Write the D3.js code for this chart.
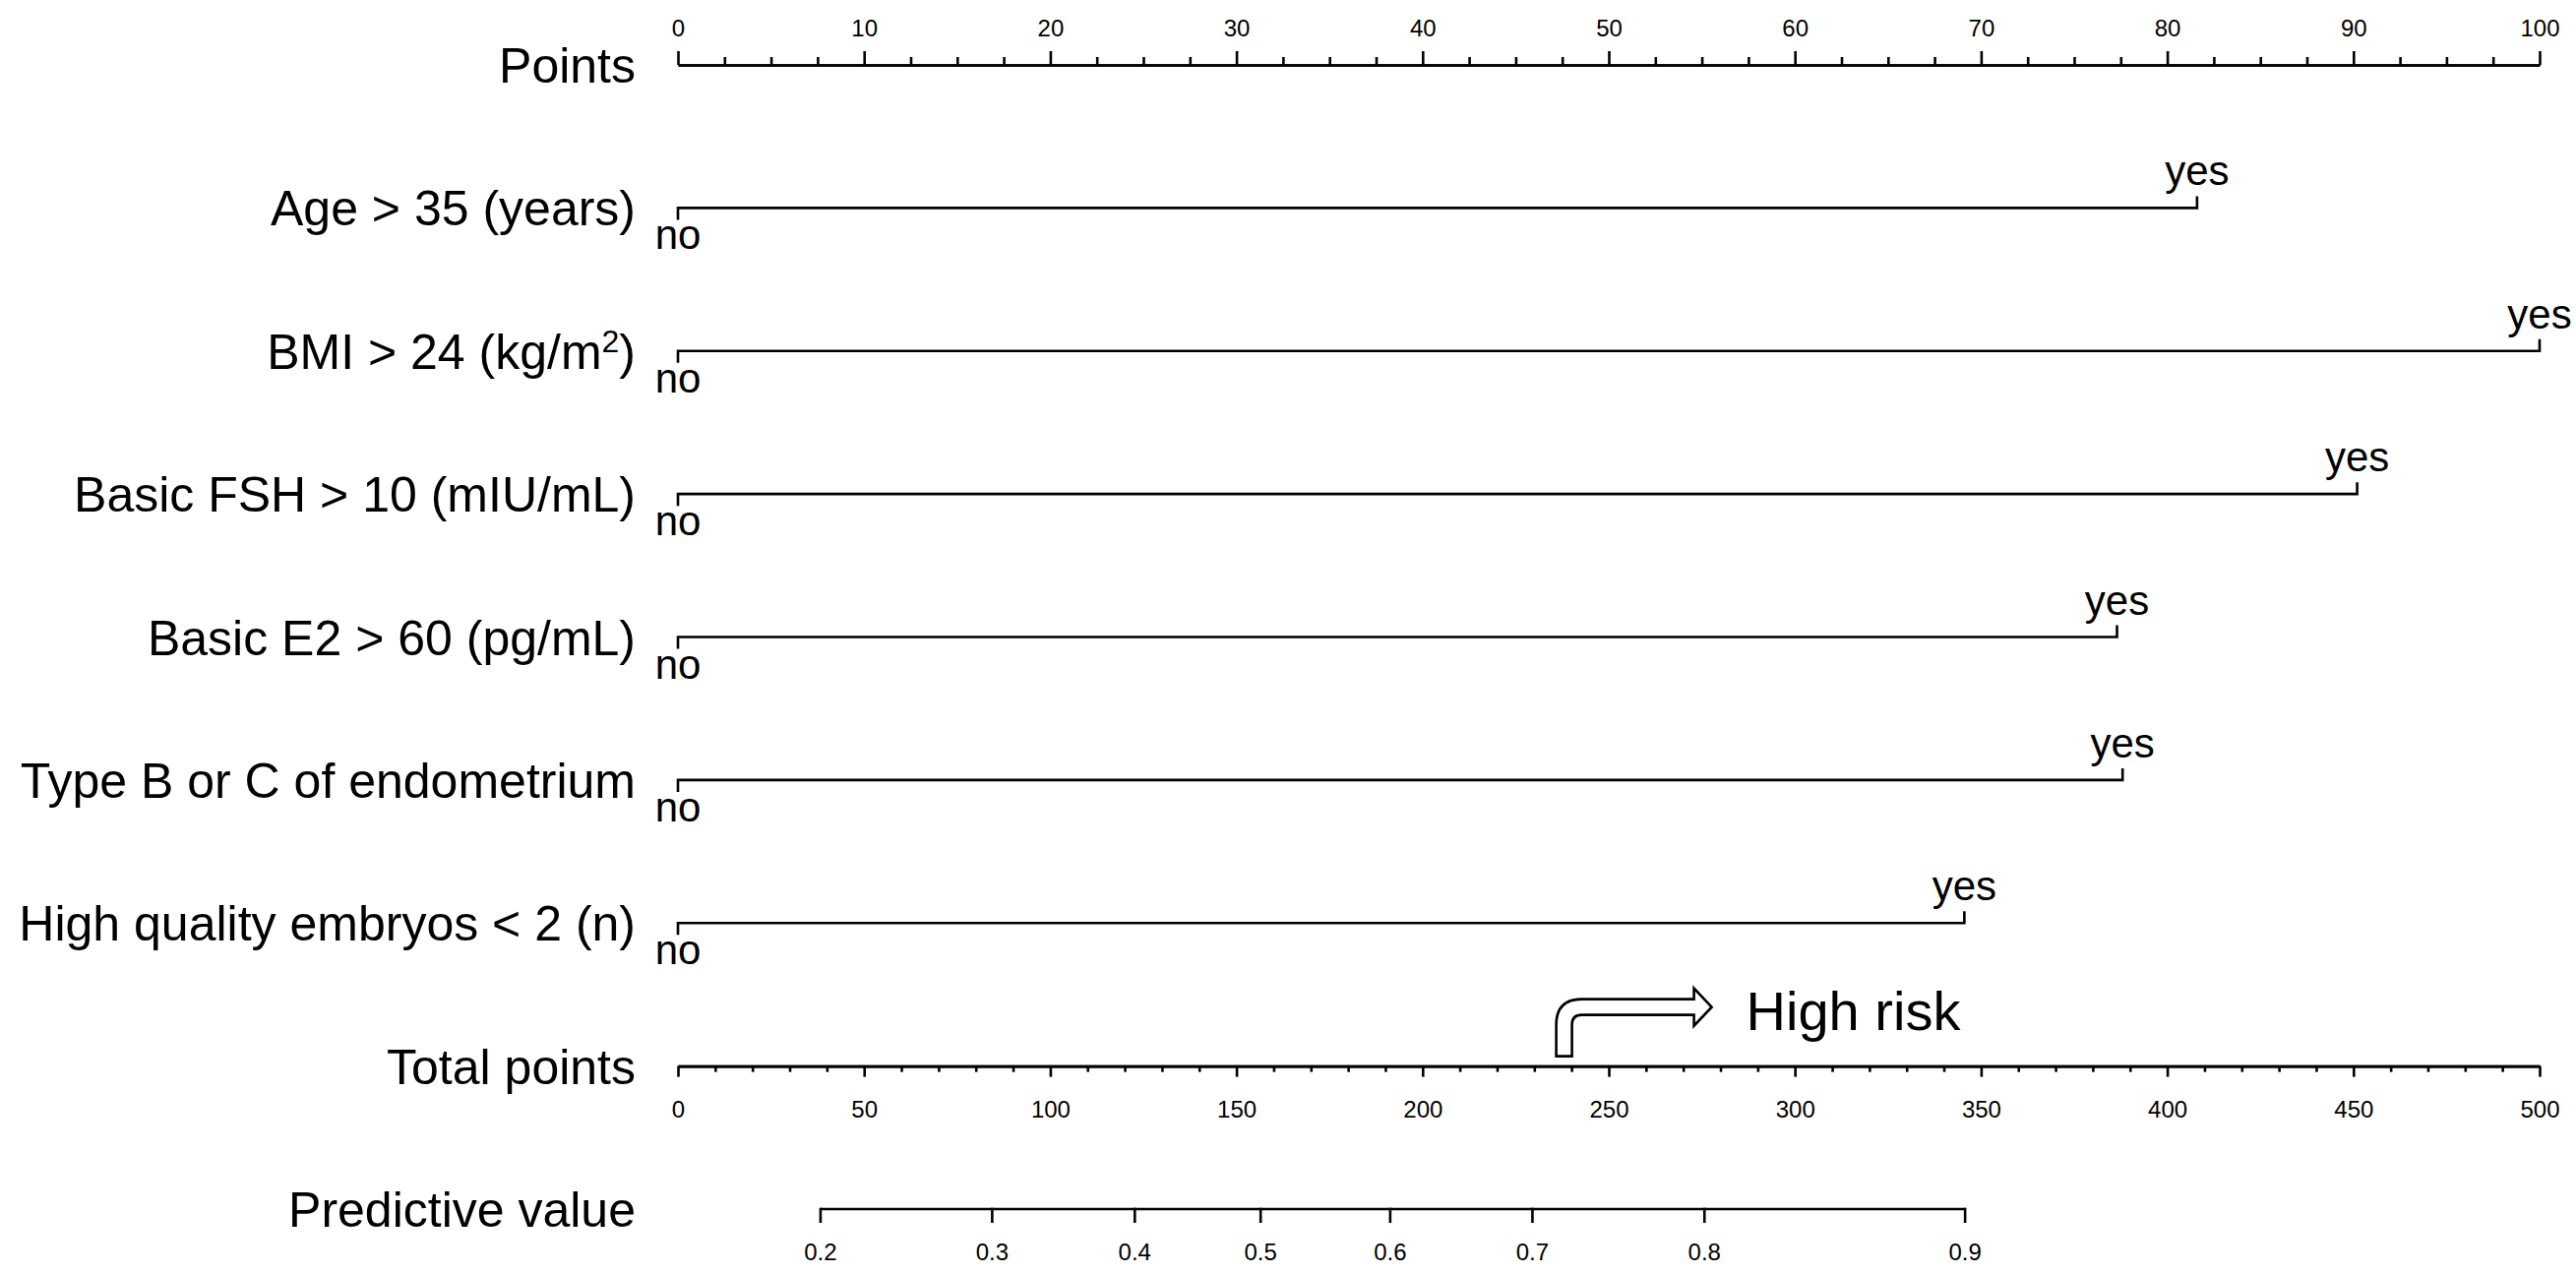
<!DOCTYPE html>
<html>
<head>
<meta charset="utf-8">
<script src="https://cdn.jsdelivr.net/npm/d3@7"></script>
<style>
  html, body { margin: 0; padding: 0; background: #fff; }
  svg { display: block; }
</style>
</head>
<body>
<svg id="chart" width="2618" height="1295"></svg>
<script>
// ---------------- data ----------------
const rowKeys = ["points", "age", "bmi", "fsh", "e2", "endo", "hq", "total", "pred"];
const rowLabels = ["Points", "Age > 35 (years)", "BMI > 24 (kg/m2)", "Basic FSH > 10 (mIU/mL)",
  "Basic E2 > 60 (pg/mL)", "Type B or C of endometrium", "High quality embryos < 2 (n)",
  "Total points", "Predictive value"];
const variables = ["age", "bmi", "fsh", "e2", "endo", "hq"];
const levelNo = ["no", "no", "no", "no", "no", "no"];
const levelYes = ["yes", "yes", "yes", "yes", "yes", "yes"];
const noPoints = [0, 0, 0, 0, 0, 0];
const yesPoints = [81.6, 100, 90.2, 77.3, 77.6, 69.1];
const pointsMajorTicks = [0, 10, 20, 30, 40, 50, 60, 70, 80, 90, 100];
const pointsMinorTicks = [2.5, 5, 7.5, 12.5, 15, 17.5, 22.5, 25, 27.5, 32.5, 35, 37.5, 42.5, 45, 47.5,
  52.5, 55, 57.5, 62.5, 65, 67.5, 72.5, 75, 77.5, 82.5, 85, 87.5, 92.5, 95, 97.5];
const totalMajorTicks = [0, 50, 100, 150, 200, 250, 300, 350, 400, 450, 500];
const totalMinorTicks = [10, 20, 30, 40, 60, 70, 80, 90, 110, 120, 130, 140, 160, 170, 180, 190,
  210, 220, 230, 240, 260, 270, 280, 290, 310, 320, 330, 340, 360, 370, 380, 390,
  410, 420, 430, 440, 460, 470, 480, 490];
const predLabels = ["0.2", "0.3", "0.4", "0.5", "0.6", "0.7", "0.8", "0.9"];
const predAtTotal = [38.3, 84.4, 122.7, 156.5, 191.3, 229.5, 275.7, 345.7];
const arrowAtTotal = 238;
const arrowText = "High risk";

// ---------------- layout ----------------
(function () {
const svg = d3.select("#chart");
const MAIN_FONT = "'Liberation Sans', Arial, Helvetica, sans-serif";
const TICK_FONT = "'Liberation Sans Narrow', 'Arial Narrow', 'Liberation Sans', sans-serif";

const xPts = d3.scaleLinear().domain([0, 100]).range([689, 2581]);
const xTot = d3.scaleLinear().domain([0, 500]).range([689, 2581]);
const yRow = d3.scalePoint().domain(rowKeys).range([66, 1229]);

const LW = 2.6;

// Row labels
svg.append("g").selectAll("text").data(rowKeys).join("text")
  .attr("x", 646)
  .attr("y", d => yRow(d) + 18)
  .attr("text-anchor", "end")
  .attr("font-family", MAIN_FONT)
  .attr("font-size", 50)
  .attr("fill", "#000")
  .each(function(d, i) {
    const t = d3.select(this);
    const lab = rowLabels[i];
    if (d === "bmi") {
      t.append("tspan").text(lab.slice(0, lab.length - 2));
      t.append("tspan").text("2").attr("font-size", 32).attr("dy", -17);
      t.append("tspan").text(")").attr("dy", 17);
    } else {
      t.text(lab);
    }
  });

function styleAxis(g) {
  g.selectAll("path.domain").attr("stroke", "#000").attr("stroke-width", LW);
  g.selectAll(".tick line").attr("stroke", "#000").attr("stroke-width", LW);
  g.selectAll(".tick text").attr("font-family", TICK_FONT).attr("font-size", 24).attr("fill", "#000");
}

// Points axis (top)
const gPts = svg.append("g").attr("transform", `translate(0,${yRow("points")})`);
gPts.append("g").call(d3.axisTop(xPts).tickValues(pointsMinorTicks).tickSize(8).tickSizeOuter(0).tickFormat(""))
  .call(styleAxis);
gPts.append("g").call(d3.axisTop(xPts).tickValues(pointsMajorTicks).tickSize(14).tickSizeOuter(0).tickFormat(d3.format("d")))
  .call(styleAxis)
  .call(g => g.selectAll(".tick text").attr("y", -29).attr("dy", 0));

// Variable rows
variables.forEach((v, i) => {
  const y = yRow(v);
  const x0 = xPts(noPoints[i]);
  const x1 = xPts(yesPoints[i]);
  const g = svg.append("g");
  g.append("path")
    .attr("d", d3.line()([[x0, y + 12], [x0, y], [x1, y], [x1, y - 12]]))
    .attr("fill", "none").attr("stroke", "#000").attr("stroke-width", LW)
    .attr("stroke-linejoin", "miter").attr("stroke-linecap", "butt");
  g.append("text").attr("x", x0).attr("y", y + 42).attr("text-anchor", "middle")
    .attr("font-family", MAIN_FONT).attr("font-size", 42).attr("fill", "#000").text(levelNo[i]);
  g.append("text").attr("x", x1).attr("y", y - 23).attr("text-anchor", "middle")
    .attr("font-family", MAIN_FONT).attr("font-size", 42).attr("fill", "#000").text(levelYes[i]);
});

// Total points axis (bottom)
const gTot = svg.append("g").attr("transform", `translate(0,${yRow("total")})`);
gTot.append("g").call(d3.axisBottom(xTot).tickValues(totalMinorTicks).tickSize(6).tickSizeOuter(0).tickFormat(""))
  .call(styleAxis);
gTot.append("g").call(d3.axisBottom(xTot).tickValues(totalMajorTicks).tickSize(11).tickSizeOuter(0).tickFormat(d3.format("d")))
  .call(styleAxis)
  .call(g => g.selectAll(".tick text").attr("y", 52).attr("dy", 0));

// Predictive value axis
const xPred = d3.scaleOrdinal().domain(predLabels).range(predAtTotal.map(d => xTot(d)));
const gPred = svg.append("g").attr("transform", `translate(0,${yRow("pred")})`);
gPred.append("line")
  .attr("x1", xPred(predLabels[0])).attr("x2", xPred(predLabels[predLabels.length - 1]))
  .attr("stroke", "#000").attr("stroke-width", LW);
const pt = gPred.selectAll("g.tick").data(predLabels).join("g").attr("class", "tick")
  .attr("transform", d => `translate(${xPred(d)},0)`);
pt.append("line").attr("y1", -LW / 2).attr("y2", 14).attr("stroke", "#000").attr("stroke-width", LW);
pt.append("text").attr("y", 52).attr("text-anchor", "middle")
  .attr("font-family", TICK_FONT).attr("font-size", 24).attr("fill", "#000").text(d => d);

// High risk arrow annotation
const ax = xTot(arrowAtTotal);   // stem centre
const yT = yRow("total");
const sL = ax - 8, sR = ax + 8;       // stem edges
const bot = yT - 10;                  // stem bottom
const shTop = yT - 68, shBot = yT - 52; // shaft edges
const hx = ax + 132, tip = ax + 150;  // head base, tip
const cy = (shTop + shBot) / 2;
const ro = 26, ri = 10;
const arrowPath = [
  `M${sL},${bot}`,
  `L${sL},${shTop + ro}`,
  `Q${sL},${shTop} ${sL + ro},${shTop}`,
  `L${hx},${shTop}`,
  `L${hx},${cy - 19}`,
  `L${tip},${cy}`,
  `L${hx},${cy + 19}`,
  `L${hx},${shBot}`,
  `L${sR + ri},${shBot}`,
  `Q${sR},${shBot} ${sR},${shBot + ri}`,
  `L${sR},${bot}`,
  "Z"
].join(" ");
svg.append("path").attr("d", arrowPath)
  .attr("fill", "#fff").attr("stroke", "#000").attr("stroke-width", 2.6).attr("stroke-linejoin", "miter");
svg.append("text").attr("x", tip + 35).attr("y", yT - 37)
  .attr("font-family", MAIN_FONT).attr("font-size", 56).attr("fill", "#000").text(arrowText);
})();
</script>
</body>
</html>
